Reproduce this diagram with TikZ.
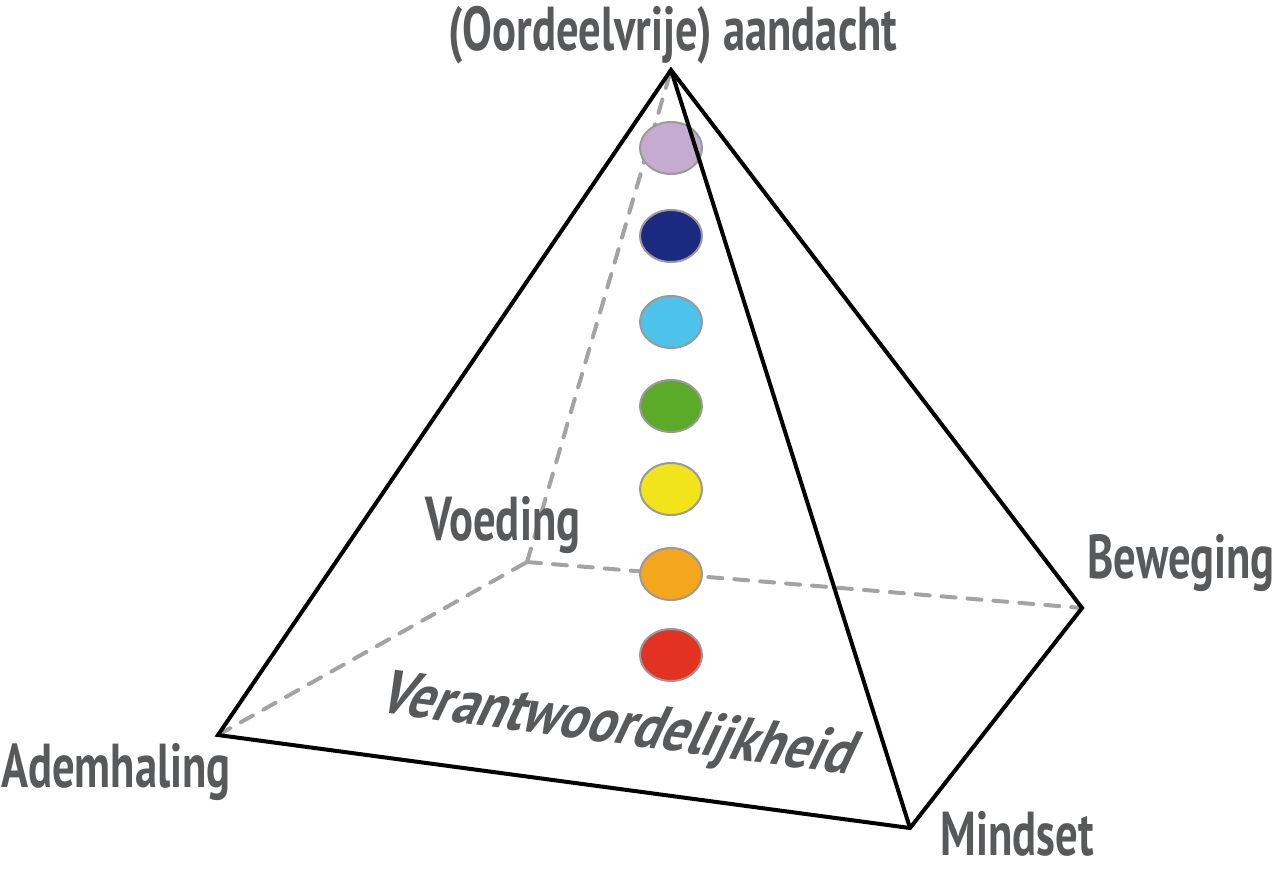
\documentclass[tikz,border=0pt]{standalone}
\usepackage{fontspec}
\newfontfamily\labfont[FakeStretch=0.72]{PT Sans}
\newfontfamily\slfont[FakeStretch=0.84, FakeSlant=0.32]{PT Sans}
\usetikzlibrary{shapes.geometric}
\definecolor{labgray}{HTML}{58595B}
\definecolor{dashgray}{HTML}{A3A3A3}
\definecolor{rimgray}{HTML}{9A9A9A}
\definecolor{cLav}{HTML}{C4ABD0}
\definecolor{cNavy}{HTML}{1B2A80}
\definecolor{cCyan}{HTML}{4DC2EA}
\definecolor{cGreen}{HTML}{5BAA28}
\definecolor{cYellow}{HTML}{F1E41A}
\definecolor{cOrange}{HTML}{F4A61C}
\definecolor{cRed}{HTML}{E33222}
\tikzset{
  edge/.style={draw=black, line width=2pt, line join=miter},
  hidden/.style={draw=dashgray, line width=2pt, dash pattern=on 7pt off 6pt, line cap=round},
  dot/.style={ellipse, draw=rimgray, line width=1pt, minimum width=31pt, minimum height=26pt, inner sep=0pt},
  lab/.style={text=labgray, font=\labfont\bfseries\fontsize{31}{33}\selectfont, anchor=base, inner sep=0pt},
}
\begin{document}
\begin{tikzpicture}[x=0.5pt,y=-0.5pt]
\useasboundingbox (0,0) rectangle (1277,873);
\coordinate (top) at (671,70);
\coordinate (adem) at (218,735);
\coordinate (mind) at (910,828);
\coordinate (bew) at (1082,608);
\coordinate (voed) at (527,562);
% hidden edges
\draw[hidden] (adem) -- (voed);
\draw[hidden] (voed) -- (bew);
\draw[hidden] (voed) -- (top);
% coloured dots
\node[dot, fill=cLav]    (d1) at (671,148) {};
\node[dot, fill=cNavy]   (d2) at (671,236) {};
\node[dot, fill=cCyan]   (d3) at (671,322) {};
\node[dot, fill=cGreen]  (d4) at (671,406) {};
\node[dot, fill=cYellow] (d5) at (671,489) {};
\node[dot, fill=cOrange] (d6) at (671,574) {};
\node[dot, fill=cRed]    (d7) at (671,655) {};
% visible edges
\draw[edge] (adem) -- (top) -- (bew) -- (mind) -- cycle;
\draw[edge] (top) -- (mind);
% labels
\node[lab] (ltop) at (673,50) {(Oordeelvrije) aandacht};
\node[lab] (lvoed) at (503,540) {Voeding};
\node[lab] (lbew) at (1181,578) {Beweging};
\node[lab] (ladem) at (116,787) {Ademhaling};
\node[lab] (lmind) at (1017,855) {Mindset};
\node[lab, font=\slfont\bfseries\fontsize{31}{33}\selectfont, rotate=-7.5] (lver) at (612,743) {Verantwoordelijkheid};
\end{tikzpicture}
\end{document}
